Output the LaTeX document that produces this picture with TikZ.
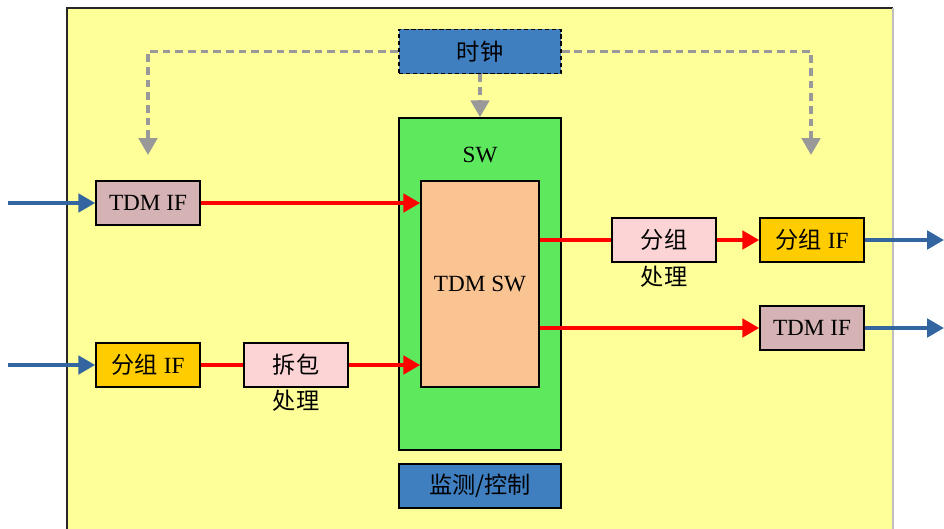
\documentclass[tikz,border=0pt]{standalone}
\usepackage{fontspec}
\setmainfont{Liberation Serif}
\newfontfamily\cjk{Noto Sans CJK SC}
\usetikzlibrary{arrows.meta}

\definecolor{bgyellow}{HTML}{FFFF99}
\definecolor{boxblue}{HTML}{3F7FC0}
\definecolor{swgreen}{HTML}{5EE85E}
\definecolor{sworange}{HTML}{FAC492}
\definecolor{tdmrose}{HTML}{D5B3B4}
\definecolor{pktgold}{HTML}{FFCC00}
\definecolor{procpink}{HTML}{FCD4D5}
\definecolor{linkblue}{HTML}{3366A0}
\definecolor{clkgray}{HTML}{999999}

\begin{document}
\begin{tikzpicture}[x=0.025cm, y=-0.025cm,
  >={Triangle[length=12pt, width=13pt]},
  every node/.style={font=\fontsize{16.5}{18}\selectfont},
  blk/.style={draw, line width=1.1pt, minimum width=2.6cm, minimum height=1.1cm, inner sep=0pt},
  wide/.style={blk, minimum width=4.05cm},
  tdm/.style={->, draw=red, line width=2.8pt},
  link/.style={->, draw=linkblue, line width=2.8pt},
  clk/.style={->, draw=clkgray, line width=2.8pt, dash pattern=on 5.5pt off 3.5pt}]
  \useasboundingbox (0,0) rectangle (944,528);
  % board
  \fill[bgyellow] (67,8) rectangle (893,540);
  \draw[black!85, line width=0.8pt] (67,540) -- (67,8) -- (893,8);
  \draw[black!25, line width=0.8pt] (893,8) -- (893,540);

  % switch
  \node[blk, fill=swgreen, minimum width=4.05cm, minimum height=8.3cm] (sw) at (480,284) {};
  \node (swlbl) at (480,155) {SW};
  \node[blk, fill=sworange, minimum width=2.95cm, minimum height=5.15cm] (tdmsw) at (480,284) {TDM SW};

  % clock and control
  \node[wide, fill=boxblue, densely dashed] (clock) at (480,51.5) {\cjk 时钟};
  \node[wide, fill=boxblue] (ctrl) at (480,486) {\cjk 监测/控制};

  % interfaces
  \node[blk, fill=tdmrose] (tdmifA) at (148,203) {TDM IF};
  \node[blk, fill=pktgold] (pktifA) at (148,365) {{\cjk 分组} IF};
  \node[blk, fill=procpink] (unpack) at (296,365) {\cjk 拆包};
  \node (unpacklbl) at (296,401) {\cjk 处理};
  \node[blk, fill=procpink] (pack) at (664,240) {\cjk 分组};
  \node (packlbl) at (664,277) {\cjk 处理};
  \node[blk, fill=pktgold] (pktifB) at (812,240) {{\cjk 分组} IF};
  \node[blk, fill=tdmrose] (tdmifB) at (812,328) {TDM IF};

  % free ends
  \coordinate (clkL) at (148,155);
  \coordinate (clkR) at (811,155);
  \coordinate (inA) at (8,203);
  \coordinate (inB) at (8,365);
  \coordinate (outA) at (944,240);
  \coordinate (outB) at (944,328);

  % clock distribution
  \draw[clk] (clock.west) -| (clkL);
  \draw[clk] (clock.east) -| (clkR);
  \draw[clk] (clock.south) -- (sw.north);

  % data paths
  \draw[tdm] (tdmifA.east) -- (tdmifA.east -| tdmsw.west);
  \draw[tdm, -] (pktifA) -- (unpack);
  \draw[tdm] (unpack.east) -- (unpack.east -| tdmsw.west);
  \draw[tdm, -] (pack.west -| tdmsw.east) -- (pack.west);
  \draw[tdm] (pack) -- (pktifB);
  \draw[tdm] (tdmifB.west -| tdmsw.east) -- (tdmifB.west);

  % external links
  \draw[link] (inA) -- (tdmifA.west);
  \draw[link] (inB) -- (pktifA.west);
  \draw[link] (pktifB.east) -- (outA);
  \draw[link] (tdmifB.east) -- (outB);
\end{tikzpicture}
\end{document}
